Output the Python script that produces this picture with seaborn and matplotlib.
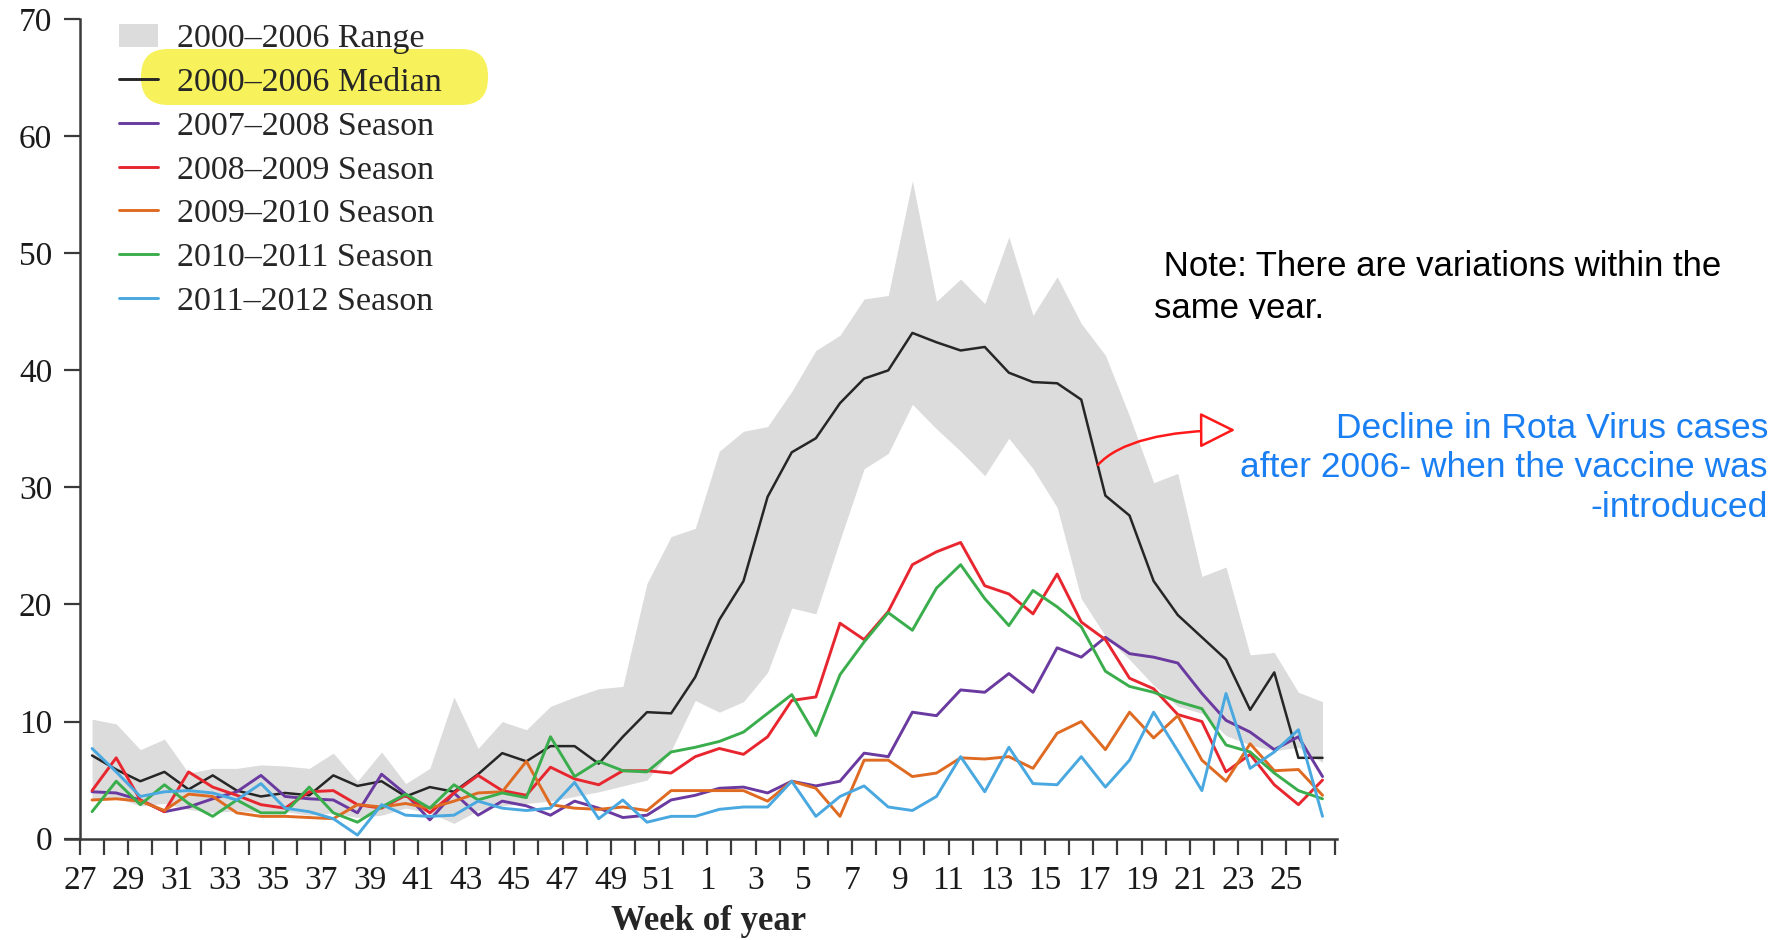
import numpy as np
import pandas as pd
import seaborn as sns
import matplotlib.pyplot as plt
from matplotlib.patches import Patch, FancyBboxPatch, FancyArrowPatch
from matplotlib.lines import Line2D
from matplotlib.transforms import Bbox, TransformedBbox

# week of year, season runs from week 27 to week 26 of next year
weeks = list(range(27, 53)) + list(range(1, 27))

range_low = [3.2, 3.5, 2.8, 3.0, 2.5, 2.2, 2.4, 2.2, 2.3, 2.0, 2.2, 1.8, 2.0,
             2.6, 2.2, 1.3, 2.4, 2.8, 3.0, 3.2, 3.6, 4.0, 4.5, 5.0, 7.5, 11.8,
             10.8, 11.7, 14.2, 19.7, 19.2, 25.5, 31.6, 32.9, 37.1, 35.0, 33.1, 31.0, 34.2,
             31.6, 28.3, 20.5, 17.3, 15.3, 13.1, 11.3, 10.7, 8.8, 8.0, 7.5, 7.8, 6.5]
range_high = [10.2, 9.8, 7.6, 8.5, 5.6, 6.0, 6.0, 6.3, 6.2, 6.0, 7.3, 4.9, 7.4,
              4.7, 6.0, 12.1, 7.7, 10.0, 9.3, 11.3, 12.1, 12.8, 13.0, 21.8, 25.8, 26.5,
              33.1, 34.8, 35.2, 38.2, 41.7, 43.0, 46.1, 46.4, 56.2, 45.9, 47.8, 45.7, 51.4,
              44.7, 48.0, 44.0, 41.3, 36.1, 30.4, 31.2, 22.4, 23.2, 15.7, 15.9, 12.5, 11.7]

median_00_06 = [7.1, 5.9, 4.9, 5.7, 4.2, 5.4, 4.1, 3.6, 3.9, 3.7, 5.4, 4.5, 4.9,
                3.6, 4.4, 4.0, 5.5, 7.3, 6.6, 7.9, 7.9, 6.4, 8.7, 10.8, 10.7, 13.8,
                18.7, 22.0, 29.2, 33.0, 34.2, 37.2, 39.3, 40.0, 43.2, 42.4, 41.7, 42.0, 39.8,
                39.0, 38.9, 37.5, 29.3, 27.6, 22.0, 19.1, 17.2, 15.3, 11.0, 14.2, 6.9, 6.9]
season_07_08 = [4.0, 3.9, 3.3, 2.3, 2.7, 3.4, 4.0, 5.4, 3.6, 3.4, 3.3, 2.2, 5.5,
                3.8, 1.6, 3.9, 2.0, 3.2, 2.8, 2.0, 3.2, 2.6, 1.8, 2.0, 3.3, 3.7,
                4.3, 4.4, 3.9, 4.9, 4.5, 4.9, 7.3, 7.0, 10.8, 10.5, 12.7, 12.5, 14.1,
                12.5, 16.3, 15.5, 17.2, 15.8, 15.5, 15.0, 12.4, 10.1, 9.1, 7.6, 8.7, 5.3]
season_08_09 = [4.1, 6.9, 3.3, 2.3, 5.7, 4.4, 3.7, 2.9, 2.6, 4.0, 4.1, 2.9, 2.6,
                3.7, 2.2, 3.9, 5.4, 4.1, 3.7, 6.1, 5.1, 4.6, 5.8, 5.8, 5.6, 7.0,
                7.7, 7.2, 8.7, 11.8, 12.1, 18.4, 17.0, 19.4, 23.4, 24.5, 25.3, 21.6, 20.9,
                19.2, 22.6, 18.5, 17.0, 13.7, 12.8, 10.6, 10.0, 5.7, 7.2, 4.6, 2.9, 5.0]
season_09_10 = [3.3, 3.4, 3.2, 2.4, 3.8, 3.6, 2.2, 1.9, 1.9, 1.8, 1.7, 2.9, 2.7,
                3.0, 2.6, 3.2, 3.9, 4.0, 6.6, 2.9, 2.6, 2.5, 2.7, 2.4, 4.1, 4.1,
                4.1, 4.1, 3.2, 4.9, 4.3, 1.9, 6.7, 6.7, 5.3, 5.6, 6.9, 6.8, 7.0,
                6.0, 9.0, 10.0, 7.6, 10.8, 8.6, 10.5, 6.7, 4.9, 8.1, 5.8, 5.9, 3.7]
season_10_11 = [2.3, 4.9, 2.9, 4.6, 3.0, 1.9, 3.3, 2.2, 2.2, 4.4, 2.2, 1.4, 2.7,
                3.8, 2.6, 4.6, 3.3, 3.9, 3.5, 8.7, 5.3, 6.6, 5.8, 5.7, 7.4, 7.8,
                8.3, 9.1, 10.7, 12.3, 8.8, 14.0, 16.8, 19.3, 17.8, 21.4, 23.4, 20.5, 18.2,
                21.2, 19.8, 18.1, 14.3, 13.0, 12.5, 11.7, 11.1, 8.0, 7.4, 5.6, 4.1, 3.4]
season_11_12 = [7.7, 5.7, 3.6, 4.0, 4.1, 3.9, 3.3, 4.7, 2.6, 2.3, 1.7, 0.3, 2.9,
                2.0, 1.9, 2.0, 3.2, 2.6, 2.4, 2.6, 4.8, 1.7, 3.3, 1.4, 1.9, 1.9,
                2.5, 2.7, 2.7, 4.9, 1.9, 3.6, 4.5, 2.7, 2.4, 3.6, 7.0, 4.0, 7.8,
                4.7, 4.6, 7.0, 4.4, 6.7, 10.8, 7.5, 4.1, 12.4, 6.0, 7.4, 9.3, 1.9]

names = ['2000–2006 Median', '2007–2008 Season', '2008–2009 Season',
         '2009–2010 Season', '2010–2011 Season', '2011–2012 Season']
values = [median_00_06, season_07_08, season_08_09, season_09_10, season_10_11, season_11_12]
colors = ['#262626', '#6a3aa0', '#e8262f', '#df6a22', '#3aad4c', '#4aa8e0']

x = np.arange(len(weeks))
df = pd.DataFrame({
    'idx': np.tile(x, len(names)),
    'cases': np.concatenate(values),
    'series': np.repeat(names, len(x)),
})

sns.set_style('ticks')
plt.rcParams['font.family'] = ['Liberation Serif', 'DejaVu Serif']
sans = ['Liberation Sans', 'DejaVu Sans']

W, H = 1772, 940
fig = plt.figure(figsize=(W / 100, H / 100), dpi=100)
ax = fig.add_axes([65 / W, (H - 838.6) / H, 1272 / W, 819.4 / H])
ax.set_facecolor('none')

# yellow highlight behind the median legend entry
fig.add_artist(FancyBboxPatch((1.41, 8.35), 3.47, 0.56,
                              boxstyle='round,pad=0,rounding_size=0.27',
                              transform=fig.dpi_scale_trans,
                              fc='#f7f25c', ec='none', zorder=-1))

ax.fill_between(x, range_low, range_high, color='#dcdcdc', lw=0, zorder=1)
sns.lineplot(data=df, x='idx', y='cases', hue='series', hue_order=names,
             palette=dict(zip(names, colors)), estimator=None, lw=2.1,
             legend=False, ax=ax, zorder=3)
ax.lines[0].set_linewidth(1.8)

ax.set_xlim(-0.5 - 15 / 24.13, 51.6)
ax.set_ylim(0, 70)
ax.spines[['top', 'right']].set_visible(False)
ax.spines['left'].set_position(('data', -0.5))
ax.spines['left'].set_bounds(0, 70)
for sp in ['left', 'bottom']:
    ax.spines[sp].set_linewidth(1.8)
    ax.spines[sp].set_color('#3a3a3a')

ticks = np.arange(-0.5, 52, 1)
tick_labels = [str(weeks[k]) if k % 2 == 0 and k < len(weeks) else '' for k in range(len(ticks))]
ax.set_xticks(ticks, labels=tick_labels)
ax.set_yticks(range(0, 71, 10))
ax.tick_params(axis='both', direction='out', length=11.5, width=1.6,
               color='#3a3a3a', labelcolor='#1a1a1a')
ax.tick_params(axis='y', labelsize=24, pad=8.5)
ax.tick_params(axis='x', labelsize=24, pad=8)

ax.set_xlabel('Week of year', fontsize=25, fontweight='bold', va='baseline')
ax.xaxis.set_label_coords((709 - 65) / 1272, (838.6 - 930) / 819.4)
ax.set_ylabel('')

handles = [Patch(facecolor='#dcdcdc', edgecolor='none')] + \
          [Line2D([], [], color=c, lw=2.1) for c in colors]
ax.legend(handles, ['2000–2006 Range'] + names, loc='upper left',
          bbox_to_anchor=(119 / W, 1 - 23.5 / H), bbox_transform=fig.transFigure,
          frameon=False, fontsize=24.5, handlelength=1.15, handletextpad=0.56,
          labelspacing=0.38, borderpad=0, borderaxespad=0)

fig.text(1154 / W, 1 - 276 / H, ' Note: There are variations within the',
         ha='left', va='baseline', fontsize=25, family=sans, color='black')
note2 = fig.text(1154 / W, 1 - 318 / H, 'same year.',
                 ha='left', va='baseline', fontsize=25, family=sans, color='black')
# the original text box cuts off the descender of the last line
note2.set_clip_box(TransformedBbox(Bbox([[0, 1 - 319.5 / H], [1, 1]]), fig.transFigure))
note2.set_clip_on(True)

fig.text(1768 / W, 1 - 468 / H,
         'Decline in Rota Virus cases\nafter 2006- when the vaccine was\n-introduced',
         ha='right', va='center', multialignment='right', fontsize=25.5,
         family=sans, color='#1a7ff2', linespacing=1.24)

fig.add_artist(FancyArrowPatch((1096 / W, 1 - 467 / H), (1238 / W, 1 - 430 / H),
                               transform=fig.transFigure,
                               connectionstyle='angle3,angleA=50,angleB=0',
                               arrowstyle='-|>,head_length=0.9,head_width=0.45',
                               mutation_scale=25, lw=1.8, ec='#ff1a1a', fc='white'))

fig.savefig('out.png', dpi=100)
